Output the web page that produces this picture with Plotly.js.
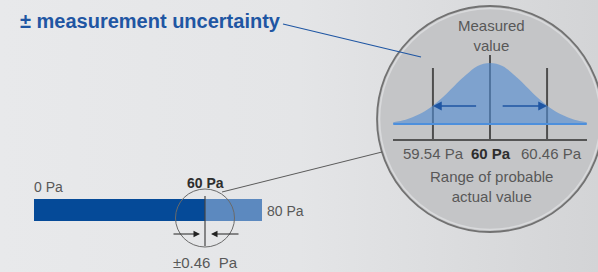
<!DOCTYPE html>
<html>
<head>
<meta charset="utf-8">
<script src="https://cdn.plot.ly/plotly-3.0.1.min.js"></script>
<style>
  html, body { margin: 0; padding: 0; }
  body { width: 598px; height: 272px; overflow: hidden;
         background: linear-gradient(90deg, #e8e9eb 0%, #e4e5e7 50%, #d3d4d6 100%); }
  #chart { width: 598px; height: 272px; }
</style>
</head>
<body>
<div id="chart"></div>
<script>
// ---- data ----
const scaleMin = 0;          // Pa
const scaleMax = 80;         // Pa
const measured = 60;         // Pa
const uncertainty = 0.46;    // Pa
const rangeMarks = [59.54, 60, 60.46];            // Pa
const rangeLabels = ['59.54 Pa', '<b>60 Pa</b>', '60.46 Pa'];
// bell curve (x in Pa, relative height)
const curveX = [59.22, 59.32, 59.42, 59.52, 59.61, 59.71, 59.81, 59.90, 60.00,
                60.10, 60.19, 60.29, 60.39, 60.48, 60.58, 60.68, 60.78];
const curveY = [0.03, 0.07, 0.15, 0.27, 0.42, 0.62, 0.81, 0.95, 1.00,
                0.95, 0.81, 0.62, 0.42, 0.27, 0.15, 0.07, 0.03];
const arrowLevel = 0.295;                 // height of the range arrows
const arrowTails = [59.90, 60.09];        // Pa

// ---- helpers (pixel -> paper) ----
const W = 598, H = 272;
const px = v => v / W;
const py = v => 1 - v / H;

const FONT = 'Liberation Sans, Arial, sans-serif';
const GREY = '#585858';
const DARK = '#2e2e2e';
const BLUE = '#1f56a3';

const traces = [
  { type: 'bar', orientation: 'h', y: [0], x: [measured - scaleMin], base: [scaleMin],
    width: 1, marker: { color: '#054a98' }, xaxis: 'x', yaxis: 'y', hoverinfo: 'skip' },
  { type: 'bar', orientation: 'h', y: [0], x: [scaleMax - measured], base: [measured],
    width: 1, marker: { color: '#5c89bf' }, xaxis: 'x', yaxis: 'y', hoverinfo: 'skip' },
  { type: 'scatter', mode: 'lines', x: curveX, y: curveY, fill: 'tozeroy',
    fillcolor: 'rgba(82,140,210,0.62)', line: { width: 0, shape: 'spline', color: 'rgba(0,0,0,0)' },
    xaxis: 'x2', yaxis: 'y2', hoverinfo: 'skip' },
  { type: 'scatter', mode: 'lines', x: [curveX[0], curveX[curveX.length - 1]], y: [0, 0],
    line: { width: 2.2, color: '#4d8fdc' }, xaxis: 'x2', yaxis: 'y2', hoverinfo: 'skip' }
];

const shapes = [
  // magnifier circle
  { type: 'circle', xref: 'paper', yref: 'paper', layer: 'below',
    x0: px(377), x1: px(603), y0: py(232), y1: py(6),
    fillcolor: '#c4c5c7', line: { color: '#727272', width: 1.8 } },
  { type: 'circle', xref: 'paper', yref: 'paper', layer: 'below',
    x0: px(379.5), x1: px(600.5), y0: py(229.5), y1: py(8.5),
    fillcolor: 'rgba(0,0,0,0)', line: { color: '#d9dadc', width: 1.6 } },
  // connector lines
  { type: 'line', xref: 'paper', yref: 'paper', x0: px(283), y0: py(24), x1: px(421), y1: py(57),
    line: { color: BLUE, width: 1.2 } },
  { type: 'line', xref: 'paper', yref: 'paper', x0: px(222), y0: py(192), x1: px(382), y1: py(152),
    line: { color: '#5a5a5a', width: 1 } },
  // small circle around measured value on the bar
  { type: 'circle', xref: 'x', yref: 'paper', xsizemode: 'pixel', xanchor: measured,
    x0: -29.5, x1: 29.5, y0: py(247), y1: py(189),
    fillcolor: 'rgba(0,0,0,0)', line: { color: '#6a6a6a', width: 1 } },
  { type: 'line', xref: 'x', yref: 'paper', x0: measured, x1: measured, y0: py(196), y1: py(246),
    line: { color: '#444', width: 1.2 } }
];
// range marker lines inside the magnifier (drawn below the curve fill)
rangeMarks.forEach((m, i) => {
  const top = (m === measured) ? 1.131 : 0.918;
  shapes.push({ type: 'line', xref: 'x2', yref: 'y2', layer: 'below',
    x0: m, x1: m, y0: -0.246, y1: top, line: { color: '#4e4e4e', width: 2 } });
});

const annotations = [
  { text: '<b>± measurement uncertainty</b>', xref: 'paper', yref: 'paper',
    x: px(18), y: py(21), xanchor: 'left', yanchor: 'middle', showarrow: false,
    font: { family: FONT, size: 20, color: BLUE } },
  { text: 'Measured<br>value', xref: 'paper', yref: 'paper', x: px(491), y: py(35),
    xanchor: 'center', yanchor: 'middle', showarrow: false,
    font: { family: FONT, size: 15, color: GREY } },
  { text: 'Range of probable<br>actual value', xref: 'paper', yref: 'paper', x: px(491), y: py(186),
    xanchor: 'center', yanchor: 'middle', showarrow: false,
    font: { family: FONT, size: 15, color: GREY } },
  // bar labels
  { text: scaleMin + ' Pa', xref: 'x', yref: 'paper', x: scaleMin, y: py(187),
    xanchor: 'left', yanchor: 'middle', showarrow: false, xshift: -2,
    font: { family: FONT, size: 14, color: GREY } },
  { text: '<b>' + measured + ' Pa</b>', xref: 'x', yref: 'paper', x: measured, y: py(182.5),
    xanchor: 'center', yanchor: 'middle', showarrow: false,
    font: { family: FONT, size: 14, color: DARK } },
  { text: scaleMax + ' Pa', xref: 'x', yref: 'paper', x: scaleMax, y: py(210.5),
    xanchor: 'left', yanchor: 'middle', showarrow: false, xshift: 3,
    font: { family: FONT, size: 14, color: GREY } },
  { text: '±' + uncertainty + '\u00a0 Pa', xref: 'x', yref: 'paper', x: measured, y: py(262.5),
    xanchor: 'center', yanchor: 'middle', showarrow: false,
    font: { family: FONT, size: 15, color: GREY } },
  // small arrows under the bar
  { text: '', xref: 'paper', yref: 'paper', x: px(200), y: py(234), ax: -28, ay: 0,
    showarrow: true, arrowhead: 2, arrowsize: 1.3, arrowwidth: 1, arrowcolor: '#222' },
  { text: '', xref: 'paper', yref: 'paper', x: px(211), y: py(234), ax: 29, ay: 0,
    showarrow: true, arrowhead: 2, arrowsize: 1.3, arrowwidth: 1, arrowcolor: '#222' },
  // range arrows in the magnifier
  { text: '', xref: 'x2', yref: 'y2', x: rangeMarks[0], y: arrowLevel,
    axref: 'x2', ayref: 'y2', ax: arrowTails[0], ay: arrowLevel,
    showarrow: true, arrowhead: 2, arrowsize: 1.1, arrowwidth: 1.6, arrowcolor: BLUE },
  { text: '', xref: 'x2', yref: 'y2', x: rangeMarks[2], y: arrowLevel,
    axref: 'x2', ayref: 'y2', ax: arrowTails[1], ay: arrowLevel,
    showarrow: true, arrowhead: 2, arrowsize: 1.1, arrowwidth: 1.6, arrowcolor: BLUE }
];
// range labels under the magnifier axis
rangeMarks.forEach((m, i) => {
  annotations.push({ text: rangeLabels[i], xref: 'x2', yref: 'paper', x: m, y: py(153),
    xanchor: 'center', yanchor: 'middle', showarrow: false, xshift: (i === 2 ? 4 : 1),
    font: { family: FONT, size: 15, color: (m === measured ? DARK : GREY) } });
});

const layout = {
  width: W, height: H,
  margin: { l: 0, r: 0, t: 0, b: 0 },
  paper_bgcolor: 'rgba(0,0,0,0)', plot_bgcolor: 'rgba(0,0,0,0)',
  showlegend: false, barmode: 'overlay',
  xaxis: { domain: [px(34), px(262)], range: [scaleMin, scaleMax], visible: false, fixedrange: true },
  yaxis: { domain: [py(232), py(188)], range: [-1, 1], visible: false, fixedrange: true },
  xaxis2: { domain: [px(393), px(587)], range: [59.218, 60.782], anchor: 'y2',
    showline: true, linecolor: '#555', linewidth: 2, showticklabels: false, ticks: '',
    showgrid: false, zeroline: false, fixedrange: true },
  yaxis2: { domain: [py(139), py(55)], range: [-0.246, 1.131], anchor: 'x2', visible: false,
    fixedrange: true },
  shapes: shapes,
  annotations: annotations
};

Plotly.newPlot('chart', traces, layout, { displayModeBar: false, staticPlot: true });
</script>
</body>
</html>
